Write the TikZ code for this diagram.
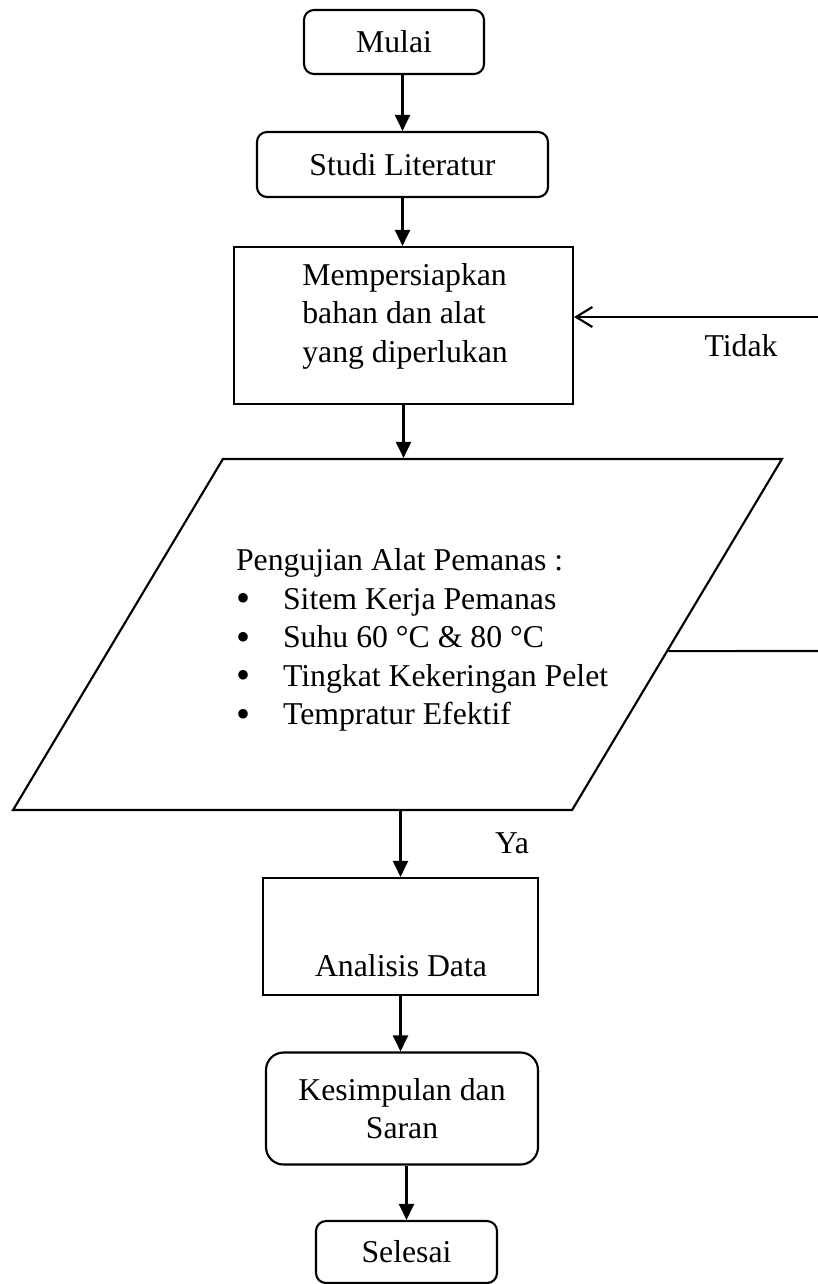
\documentclass[tikz,border=0pt]{standalone}
\usepackage{fontspec}
\setmainfont{Liberation Serif}
\usetikzlibrary{arrows.meta,positioning,shapes.geometric,calc}

\tikzset{
  flowtext/.style={font=\fontsize{12.7}{15.4}\selectfont},
  termbox/.style={draw, rounded corners=4pt, inner sep=0pt},
  procbox/.style={draw, inner sep=0pt},
  iobox/.style={draw, trapezium, trapezium left angle=59, trapezium right angle=121,
    trapezium stretches=true, inner sep=2pt},
}
\newcommand{\bul}{\makebox[18.8pt][l]{\smash{\raisebox{-1pt}{\fontsize{16}{0}\selectfont\textbullet}}}}

\begin{document}
\begin{tikzpicture}[x=0.4pt,y=-0.4pt,line width=0.85pt,>={Triangle[length=6.4pt,width=6pt]},
  node distance=2cm,on grid,every node/.style={flowtext}]
\useasboundingbox (0,0) rectangle (818,1284);
  \node[termbox, minimum width=72pt, minimum height=25.6pt] (mulai) at (394,42) {Mulai};
  \node[termbox, minimum width=116.4pt, minimum height=26pt] (studi) [below=49pt of mulai, xshift=3.4pt] {Studi Literatur};
  \node[procbox, minimum width=135.6pt, minimum height=62.8pt] (prep) [below=64.4pt of studi, xshift=0.4pt] {};
  \node[iobox, minimum width=307.6pt, minimum height=140.4pt] (uji) [below=123.6pt of prep, xshift=-2.4pt] {};
  \node[procbox, minimum width=110pt, minimum height=46.8pt] (ana) [below=120.8pt of uji, xshift=1.2pt] {};
  \node[termbox, rounded corners=7pt, align=center, minimum width=108.8pt, minimum height=44.8pt] (kes) [below=68.8pt of ana, xshift=0.6pt] {Kesimpulan dan\\Saran};
  \node[termbox, minimum width=72.4pt, minimum height=24.8pt] (sel) [below=57.4pt of kes, xshift=1.8pt] {Selesai};
% teks di dalam kotak
  \node[align=left] (preptext) at (405,316) {Mempersiapkan\\bahan dan alat\\yang diperlukan};
  \node[anchor=west, align=left, inner sep=0pt] (ujitext) at (235,640) {Pengujian Alat Pemanas :\\
    \bul Sitem Kerja Pemanas\\
    \bul Suhu 60 °C \& 80 °C\\
    \bul Tingkat Kekeringan Pelet\\
    \bul Tempratur Efektif};
  \node (anatext) at (401,966) {Analisis Data};
  \node (tidak) at (741,346) {Tidak};
  \node (ya) at (512,843) {Ya};
% garis balik
  \coordinate (balik1) at (818,317);
  \coordinate (balik2) at (818,651);
\path (mulai.south -| studi.north) edge [->] (studi.north)
      (studi.south) edge [->] (studi.south |- prep.north)
      (prep.south) edge [->] (prep.south |- uji.north)
      (uji.south -| ana.north) edge [->] (ana.north)
      (ana.south) edge [->] (ana.south |- kes.north)
      (kes.south -| sel.north) edge [->] (sel.north);
  \draw[-{Straight Barb[length=6.5pt,width=8pt]}] (balik1) -- (balik1 -| prep.east);
  \draw ($(uji.top right corner)!0.547!(uji.bottom right corner)$) -- (balik2);
\end{tikzpicture}
\end{document}
